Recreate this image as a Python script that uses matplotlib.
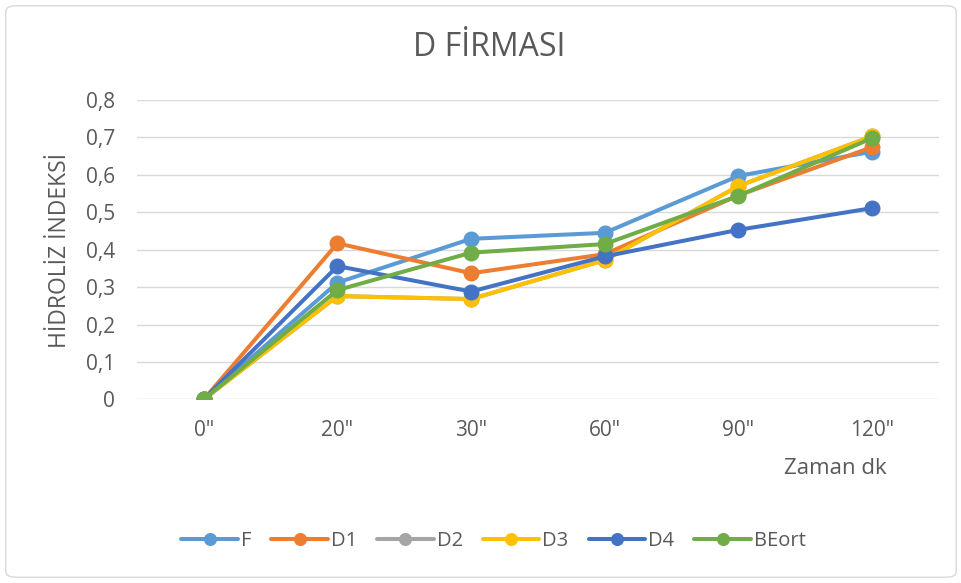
import matplotlib.pyplot as plt
from matplotlib.patches import FancyBboxPatch

# data
times = ['0"', '20"', '30"', '60"', '90"', '120"']
F = [0, 0.312, 0.429, 0.445, 0.597, 0.662]
D1 = [0, 0.417, 0.337, 0.388, 0.545, 0.674]
D2 = [0, 0.276, 0.268, 0.372, 0.570, 0.703]
D3 = [0, 0.276, 0.268, 0.372, 0.570, 0.703]
D4 = [0, 0.356, 0.288, 0.382, 0.453, 0.511]
BEort = [0, 0.292, 0.392, 0.415, 0.544, 0.698]

series = [('F', F, '#5B9BD5'), ('D1', D1, '#ED7D31'), ('D2', D2, '#A5A5A5'),
          ('D3', D3, '#FFC000'), ('D4', D4, '#4472C4'), ('BEort', BEort, '#70AD47')]

plt.rcParams['font.family'] = ['Open Sans', 'DejaVu Sans']
txt = '#595959'

fig = plt.figure(figsize=(9.62, 5.83), dpi=100)
ax = fig.add_axes([0.1424, 0.315, 0.8336, 0.5135])

x = list(range(len(times)))
for name, vals, col in series:
    ax.plot(x, vals, color=col, lw=2.9, marker='o', ms=10.5, label=name,
            solid_capstyle='round')

ax.set_xlim(-0.5, 5.5)
ax.set_ylim(0, 0.8)
ax.set_yticks([i / 10 for i in range(9)])
ax.set_yticklabels(['0'] + ['0,%d' % i for i in range(1, 9)])
ax.set_xticks(x)
ax.set_xticklabels(times)
ax.tick_params(length=0, colors=txt, labelsize=15)
ax.tick_params(axis='y', pad=16)
ax.tick_params(axis='x', pad=15)
ax.grid(axis='y', color='#D9D9D9', lw=1)
ax.set_axisbelow(True)
for s in ax.spines.values():
    s.set_visible(False)

fig.text(0.0624, 0.571, 'HİDROLİZ İNDEKSİ', rotation=90, ha='center', va='center',
         color=txt, fontsize=16.5)
fig.text(0.509, 0.919, 'D FİRMASI', ha='center', va='center', color=txt, fontsize=23)
fig.text(0.868, 0.197, 'Zaman dk', ha='center', va='center', color=txt, fontsize=16)

ax.legend(loc='center', bbox_to_anchor=(0.513, 0.072), bbox_transform=fig.transFigure,
          ncol=6, frameon=False, fontsize=14.5, labelcolor=txt, handlelength=2.8,
          handletextpad=0.15, columnspacing=1.0, markerscale=0.8)

fig.patches.append(FancyBboxPatch((0.006, 0.01), 0.988, 0.98, boxstyle='round,pad=0,rounding_size=0.01',
                                  transform=fig.transFigure, fill=False, ec='#D9D9D9', lw=1))

fig.savefig('out.png', dpi=100)
